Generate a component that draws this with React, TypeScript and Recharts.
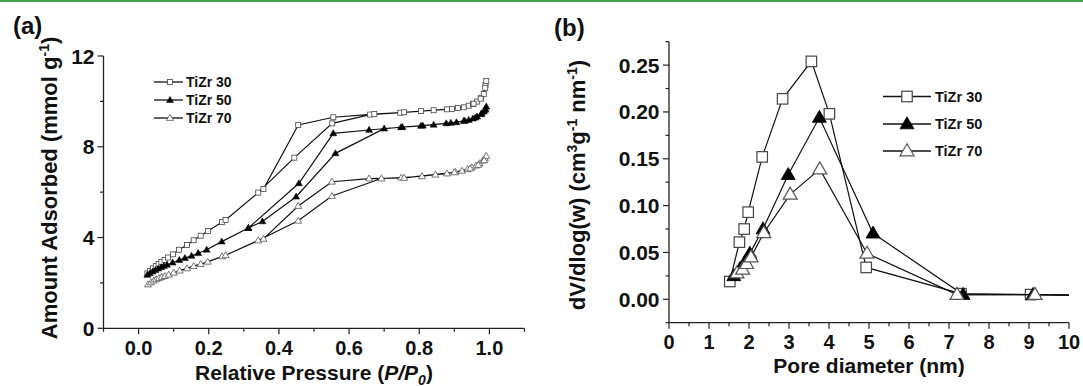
import React from 'react';
import { ScatterChart, Scatter, XAxis, YAxis, Legend, Label } from 'recharts';

// (a) N2 isotherms, adsorption then desorption, in measured order
const p30 = [0.025, 0.033, 0.041, 0.049, 0.057, 0.065, 0.074, 0.084, 0.098, 0.115, 0.138, 0.157, 0.177, 0.198, 0.238, 0.248, 0.341, 0.444, 0.552, 0.660, 0.746, 0.805, 0.841, 0.879, 0.910, 0.927, 0.941, 0.953, 0.965, 0.976, 0.984, 0.989, 0.991, 0.988, 0.975, 0.955, 0.893, 0.757, 0.672, 0.555, 0.455, 0.356];
const q30 = [2.42, 2.53, 2.64, 2.74, 2.83, 2.92, 3.01, 3.12, 3.26, 3.46, 3.67, 3.88, 4.08, 4.29, 4.68, 4.77, 5.98, 7.52, 9.03, 9.42, 9.50, 9.57, 9.61, 9.65, 9.71, 9.74, 9.81, 9.88, 9.99, 10.14, 10.33, 10.72, 10.90, 10.60, 10.12, 9.90, 9.67, 9.52, 9.44, 9.30, 8.96, 6.14];

const p50 = [0.025, 0.032, 0.040, 0.048, 0.056, 0.064, 0.072, 0.081, 0.097, 0.116, 0.132, 0.151, 0.170, 0.194, 0.237, 0.313, 0.353, 0.449, 0.561, 0.700, 0.748, 0.805, 0.841, 0.877, 0.906, 0.927, 0.941, 0.953, 0.965, 0.976, 0.984, 0.989, 0.991, 0.987, 0.978, 0.960, 0.930, 0.890, 0.810, 0.752, 0.657, 0.555, 0.457, 0.313];
const q50 = [2.35, 2.42, 2.50, 2.57, 2.63, 2.69, 2.74, 2.80, 2.89, 3.01, 3.09, 3.19, 3.31, 3.46, 3.82, 4.42, 4.71, 5.80, 7.71, 8.80, 8.86, 8.92, 8.97, 9.03, 9.08, 9.14, 9.18, 9.24, 9.33, 9.43, 9.55, 9.66, 9.77, 9.62, 9.47, 9.28, 9.14, 9.05, 8.93, 8.87, 8.74, 8.59, 6.39, 4.42];

const p70 = [0.027, 0.035, 0.043, 0.050, 0.058, 0.066, 0.075, 0.086, 0.100, 0.117, 0.138, 0.157, 0.177, 0.197, 0.238, 0.248, 0.341, 0.455, 0.551, 0.692, 0.749, 0.808, 0.846, 0.879, 0.903, 0.922, 0.938, 0.950, 0.962, 0.972, 0.981, 0.987, 0.991, 0.985, 0.968, 0.945, 0.900, 0.757, 0.657, 0.551, 0.455, 0.356];
const q70 = [1.93, 2.02, 2.10, 2.16, 2.21, 2.26, 2.30, 2.36, 2.45, 2.54, 2.64, 2.74, 2.83, 2.93, 3.17, 3.22, 3.87, 4.74, 5.83, 6.60, 6.64, 6.70, 6.77, 6.82, 6.89, 6.94, 7.01, 7.09, 7.17, 7.27, 7.39, 7.49, 7.59, 7.40, 7.20, 7.04, 6.87, 6.63, 6.60, 6.46, 5.39, 3.94];

// (b) pore size distributions
const d30 = [1.52, 1.76, 1.88, 1.98, 2.33, 2.84, 3.56, 4.01, 4.93, 7.30, 9.04, 11];
const v30 = [0.019, 0.061, 0.075, 0.093, 0.152, 0.214, 0.254, 0.198, 0.034, 0.006, 0.005, 0.004];
const d50 = [1.62, 1.78, 1.90, 2.02, 2.35, 2.98, 3.76, 5.10, 7.35, 9.10, 11];
const v50 = [0.025, 0.033, 0.040, 0.049, 0.075, 0.133, 0.194, 0.0705, 0.005, 0.005, 0.004];
const d70 = [1.70, 1.84, 1.94, 2.05, 2.37, 3.03, 3.77, 4.95, 7.20, 9.15, 11];
const v70 = [0.028, 0.032, 0.038, 0.045, 0.071, 0.112, 0.139, 0.049, 0.005, 0.005, 0.004];

const seriesNames = ['TiZr 30', 'TiZr 50', 'TiZr 70'];

// tick labels
const aXTicks = [-0.1, 0, 0.1, 0.2, 0.3, 0.4, 0.5, 0.6, 0.7, 0.8, 0.9, 1.0, 1.1];
const aXMajor = [0, 0.2, 0.4, 0.6, 0.8, 1.0];
const aYTicks = [0, 2, 4, 6, 8, 10, 12];
const aYMajor = [0, 4, 8, 12];
const bXTicks = [0, 0.5, 1, 1.5, 2, 2.5, 3, 3.5, 4, 4.5, 5, 5.5, 6, 6.5, 7, 7.5, 8, 8.5, 9, 9.5, 10];
const bXMajor = [0, 1, 2, 3, 4, 5, 6, 7, 8, 9, 10];
const bYTicks = [-0.025, 0, 0.025, 0.05, 0.075, 0.1, 0.125, 0.15, 0.175, 0.2, 0.225, 0.25, 0.275];
const bYMajor = [0, 0.05, 0.1, 0.15, 0.2, 0.25];

const zip = (xs: number[], ys: number[]) => xs.map((x, i) => ({ x, y: ys[i] }));

const FONT = '"Liberation Sans", Arial, Helvetica, sans-serif';
const INK = '#111';
const AXIS = { stroke: '#222', strokeWidth: 1.3 };
const isMajor = (v: number, majors: number[]) => majors.some((m) => Math.abs(m - v) < 1e-9);

const xTick = (majors: number[], fmt: (v: number) => string, gap: number) => (props: any) => {
  const { x, y, payload } = props;
  const major = isMajor(payload.value, majors);
  return (
    <g>
      <line x1={x} x2={x} y1={y} y2={y + (major ? 6 : 3.5)} stroke="#222" strokeWidth={1.2} />
      {major && (
        <text x={x} y={y + gap} textAnchor="middle" fontFamily={FONT} fontWeight={700} fontSize={20} fill={INK}>
          {fmt(payload.value)}
        </text>
      )}
    </g>
  );
};

const yTick = (majors: number[], fmt: (v: number) => string, gap: number) => (props: any) => {
  const { x, y, payload } = props;
  const major = isMajor(payload.value, majors);
  return (
    <g>
      <line x1={x} x2={x - (major ? 6 : 3.5)} y1={y} y2={y} stroke="#222" strokeWidth={1.2} />
      {major && (
        <text x={x - gap} y={y + 7.5} textAnchor="end" fontFamily={FONT} fontWeight={700} fontSize={21} fill={INK}>
          {fmt(payload.value)}
        </text>
      )}
    </g>
  );
};

const square = (s: number, sw: number) => (p: any) => (
  <rect x={p.cx - s / 2} y={p.cy - s / 2} width={s} height={s} fill="#fff" stroke="#444" strokeWidth={sw} />
);

const triangle = (w: number, h: number, filled: boolean, sw: number) => (p: any) => (
  <path
    d={`M${p.cx},${p.cy - h * 0.6}L${p.cx - w / 2},${p.cy + h * 0.4}L${p.cx + w / 2},${p.cy + h * 0.4}Z`}
    fill={filled ? '#000' : '#fff'}
    stroke={filled ? '#000' : '#555'}
    strokeWidth={sw}
  />
);

const LegendBox = ({ rows, x0, x1, xm, xt, fs, shapes }: any) => (
  <svg width={xt + 70} height={rows[2] + 14} style={{ overflow: 'visible' }}>
    {rows.map((ry: number, i: number) => (
      <g key={seriesNames[i]}>
        <line x1={x0} x2={x1} y1={ry} y2={ry} stroke="#111" strokeWidth={1.3} />
        {shapes[i]({ cx: xm, cy: ry })}
        <text x={xt} y={ry + fs * 0.36} fontFamily={FONT} fontWeight={700} fontSize={fs} fill={INK}>
          {seriesNames[i]}
        </text>
      </g>
    ))}
  </svg>
);

const titleStyle = { fontFamily: FONT, fontWeight: 700, fontSize: 21, fill: INK } as const;

const PanelA = () => {
  const shapes = [square(5, 0.8), triangle(7, 6, true, 0.5), triangle(7, 6, false, 0.8)];
  return (
    <ScatterChart width={540} height={386} margin={{ top: 56, right: 15.5, bottom: 0, left: 0 }}>
      <XAxis type="number" dataKey="x" domain={[-0.1, 1.1]} ticks={aXTicks} interval={0} height={57.7}
        tickSize={0} tickMargin={0} tickLine={false} axisLine={AXIS} tick={xTick(aXMajor, (v) => v.toFixed(1), 26.5)}>
        <Label content={() => (
          <text x={314} y={379.5} textAnchor="middle" {...titleStyle}>
            Relative Pressure (<tspan fontStyle="italic">P/P</tspan>
            <tspan dy={5} fontSize={14} fontStyle="italic">0</tspan>
            <tspan dy={-5}>)</tspan>
          </text>
        )} />
      </XAxis>
      <YAxis type="number" dataKey="y" domain={[0, 12]} ticks={aYTicks} interval={0} width={103.5}
        tickSize={0} tickMargin={0} tickLine={false} axisLine={AXIS} tick={yTick(aYMajor, (v) => String(v), 9)}>
        <Label content={() => (
          <text x={57} y={188} transform="rotate(-90 57 188)" textAnchor="middle" {...titleStyle} fontSize={22}>
            Amount Adsorbed (mmol g<tspan dy={-8} fontSize={14}>-1</tspan>
            <tspan dy={8}>)</tspan>
          </text>
        )} />
      </YAxis>
      <Legend layout="vertical" align="center" verticalAlign="middle" wrapperStyle={{ left: 150, top: 70 }}
        content={() => <LegendBox rows={[12, 30, 48]} x0={4} x1={33} xm={20} xt={36} fs={14} shapes={shapes} />} />
      <Scatter name="TiZr 30" data={zip(p30, q30)} shape={shapes[0]} line={{ stroke: '#111', strokeWidth: 1.2 }} isAnimationActive={false} />
      <Scatter name="TiZr 50" data={zip(p50, q50)} shape={shapes[1]} line={{ stroke: '#111', strokeWidth: 1.2 }} isAnimationActive={false} />
      <Scatter name="TiZr 70" data={zip(p70, q70)} shape={shapes[2]} line={{ stroke: '#111', strokeWidth: 1.2 }} isAnimationActive={false} />
    </ScatterChart>
  );
};

const PanelB = () => {
  const shapes = [square(10.5, 1.2), triangle(14, 12, true, 0.8), triangle(14, 12, false, 1.2)];
  return (
    <ScatterChart width={543} height={386} margin={{ top: 41.7, right: 14, bottom: 0, left: 0 }}>
      <XAxis type="number" dataKey="x" domain={[0, 10]} allowDataOverflow ticks={bXTicks} interval={0} height={63.3}
        tickSize={0} tickMargin={0} tickLine={false} axisLine={AXIS} tick={xTick(bXMajor, (v) => String(v), 26.3)}>
        <Label content={() => (
          <text x={329} y={373} textAnchor="middle" {...titleStyle}>Pore diameter (nm)</text>
        )} />
      </XAxis>
      <YAxis type="number" dataKey="y" domain={[-0.025, 0.275]} allowDataOverflow ticks={bYTicks} interval={0} width={129}
        tickSize={0} tickMargin={0} tickLine={false} axisLine={AXIS} tick={yTick(bYMajor, (v) => v.toFixed(2), 9.5)}>
        <Label content={() => (
          <text x={45} y={185} transform="rotate(-90 45 185)" textAnchor="middle" {...titleStyle} fontSize={22}>
            dV/dlog(w) (cm<tspan dy={-8} fontSize={14}>3</tspan>
            <tspan dy={8}>g</tspan>
            <tspan dy={-8} fontSize={14}>-1</tspan>
            <tspan dy={8}> nm</tspan>
            <tspan dy={-8} fontSize={14}>-1</tspan>
            <tspan dy={8}>)</tspan>
          </text>
        )} />
      </YAxis>
      <Legend layout="vertical" align="center" verticalAlign="middle" wrapperStyle={{ left: 338, top: 82 }}
        content={() => <LegendBox rows={[14.5, 42, 69]} x0={5} x1={53} xm={29} xt={57} fs={14.5} shapes={shapes} />} />
      <Scatter name="TiZr 30" data={zip(d30, v30)} shape={shapes[0]} line={{ stroke: '#111', strokeWidth: 1.2 }} isAnimationActive={false} />
      <Scatter name="TiZr 50" data={zip(d50, v50)} shape={shapes[1]} line={{ stroke: '#111', strokeWidth: 1.2 }} isAnimationActive={false} />
      <Scatter name="TiZr 70" data={zip(d70, v70)} shape={shapes[2]} line={{ stroke: '#111', strokeWidth: 1.2 }} isAnimationActive={false} />
    </ScatterChart>
  );
};

export default function App() {
  return (
    <div style={{ position: 'absolute', left: 0, top: 0, width: 1083, height: 386, background: '#fff', overflow: 'hidden' }}>
      <div style={{ position: 'absolute', left: 0, top: 0, width: 1083, height: 2, background: '#3f9f4f' }} />
      <div style={{ position: 'absolute', left: 13, top: 12, fontFamily: FONT, fontWeight: 700, fontSize: 24, color: INK }}>(a)</div>
      <div style={{ position: 'absolute', left: 554, top: 14, fontFamily: FONT, fontWeight: 700, fontSize: 24, color: INK }}>(b)</div>
      <div style={{ position: 'absolute', left: 0, top: 0 }}>
        <PanelA />
      </div>
      <div style={{ position: 'absolute', left: 540, top: 0 }}>
        <PanelB />
      </div>
    </div>
  );
}
